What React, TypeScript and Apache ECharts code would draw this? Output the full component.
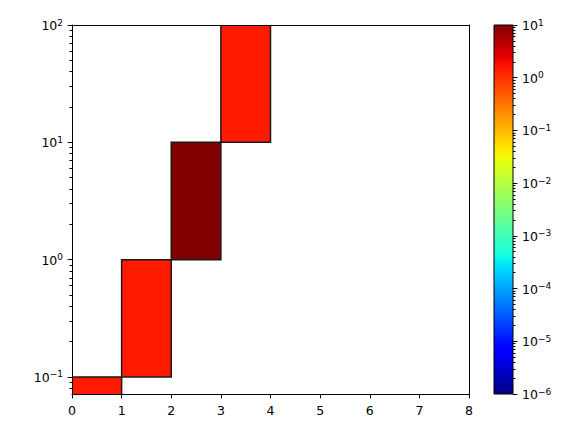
import React, { useEffect, useRef } from "react";
import * as echarts from "echarts";

// ---- data ----
const xEdges = [0, 1, 2, 3, 4];
const yEdges = [0.01, 0.1, 1, 10, 100];
const cellValues = [1.5, 1.5, 10, 1.5];
const xTicks = [0, 1, 2, 3, 4, 5, 6, 7, 8];
const yMajorExps = [-1, 0, 1, 2];
const yMin = 0.0716;
const yMax = 100;
const cbMajorExps = [-6, -5, -4, -3, -2, -1, 0, 1];
const cbMin = 1e-6;
const cbMax = 10;

const FONT = "DejaVu Sans";

// matplotlib "jet" colormap segments
const JR = [[0, 0], [0.35, 0], [0.66, 1], [0.89, 1], [1, 0.5]];
const JG = [[0, 0], [0.125, 0], [0.375, 1], [0.64, 1], [0.91, 0], [1, 0]];
const JB = [[0, 0.5], [0.11, 1], [0.34, 1], [0.65, 0], [1, 0]];
function seg(pts: number[][], t: number) {
  for (let i = 1; i < pts.length; i++) {
    if (t <= pts[i][0]) {
      const [x0, y0] = pts[i - 1];
      const [x1, y1] = pts[i];
      return y0 + ((t - x0) / (x1 - x0)) * (y1 - y0);
    }
  }
  return pts[pts.length - 1][1];
}
function jet(t: number) {
  const c = (v: number) => Math.round(Math.max(0, Math.min(1, v)) * 255);
  return `rgb(${c(seg(JR, t))},${c(seg(JG, t))},${c(seg(JB, t))})`;
}
const N_STOPS = 101;
const jetColors: string[] = [];
for (let i = 0; i < N_STOPS; i++) jetColors.push(jet(i / (N_STOPS - 1)));

function minorLogs(lo: number, hi: number) {
  const out: number[] = [];
  for (let e = Math.floor(Math.log10(lo)); e <= Math.ceil(Math.log10(hi)); e++) {
    for (let k = 2; k <= 9; k++) {
      const v = k * Math.pow(10, e);
      if (v >= lo && v <= hi) out.push(Math.log10(v));
    }
  }
  return out;
}

const powLabel = (v: number) => {
  const e = Math.round(v);
  const s = e < 0 ? "\u2212" + -e : String(e);
  return `{b|10}{s|${s}}`;
};
const rich = {
  b: { fontSize: 12.5, fontFamily: FONT, color: "#000", lineHeight: 14, verticalAlign: "bottom" },
  s: { fontSize: 9, fontFamily: FONT, color: "#000", lineHeight: 9, verticalAlign: "top" },
};

export default function App() {
  const ref = useRef<HTMLDivElement>(null);
  useEffect(() => {
    const chart = echarts.init(ref.current!, null, { renderer: "svg" });
    const cells = cellValues.map((v, i) => [
      xEdges[i],
      xEdges[i + 1],
      Math.log10(yEdges[i]),
      Math.log10(yEdges[i + 1]),
      Math.log10(v),
    ]);
    const lyMin = Math.log10(yMin);
    const lyMax = Math.log10(yMax);
    const lcMin = Math.log10(cbMin);
    const lcMax = Math.log10(cbMax);
    const lineStyle = { color: "#000", width: 1 };
    const option: any = {
      animation: false,
      backgroundColor: "#fff",
      grid: [
        { left: 72, top: 25, width: 397, height: 369 },
        { left: 494, top: 25, width: 19, height: 369 },
      ],
      xAxis: [
        {
          gridIndex: 0, type: "value", min: 0, max: 8, interval: 1, position: "bottom", z: 10,
          axisLine: { show: true, onZero: false, lineStyle }, splitLine: { show: false },
          axisTick: { show: true, length: 4.4, lineStyle, customValues: xTicks },
          axisLabel: { margin: 10, fontSize: 12.5, fontFamily: FONT, color: "#000", customValues: xTicks },
        },
        {
          gridIndex: 0, type: "value", min: 0, max: 8, position: "top", z: 10,
          axisLine: { show: true, onZero: false, lineStyle }, splitLine: { show: false },
          axisTick: { show: false }, axisLabel: { show: false },
        },
        {
          gridIndex: 1, type: "value", min: 0, max: 1, position: "bottom",
          axisLine: { show: false, onZero: false }, splitLine: { show: false },
          axisTick: { show: false }, axisLabel: { show: false },
        },
      ],
      yAxis: [
        {
          gridIndex: 0, type: "value", min: lyMin, max: lyMax, position: "left", z: 10,
          axisLine: { show: true, onZero: false, lineStyle }, splitLine: { show: false },
          axisTick: { show: true, length: 4.4, lineStyle, customValues: yMajorExps },
          axisLabel: { margin: 9, formatter: powLabel, rich, customValues: yMajorExps },
        },
        {
          gridIndex: 0, type: "value", min: lyMin, max: lyMax, position: "left", z: 10,
          axisLine: { show: false, onZero: false }, splitLine: { show: false },
          axisTick: { show: true, length: 2.5, lineStyle, customValues: minorLogs(yMin, yMax) },
          axisLabel: { show: false },
        },
        {
          gridIndex: 0, type: "value", min: lyMin, max: lyMax, position: "right", z: 10,
          axisLine: { show: true, onZero: false, lineStyle }, splitLine: { show: false },
          axisTick: { show: false }, axisLabel: { show: false },
        },
        {
          gridIndex: 1, type: "value", min: lcMin, max: lcMax, interval: 1, position: "right", z: 10,
          axisLine: { show: false, onZero: false }, splitLine: { show: false },
          axisTick: { show: true, length: 4.4, lineStyle, customValues: cbMajorExps },
          axisLabel: { margin: 9, formatter: powLabel, rich, customValues: cbMajorExps },
        },
        {
          gridIndex: 1, type: "value", min: lcMin, max: lcMax, position: "right", z: 10,
          axisLine: { show: false, onZero: false }, splitLine: { show: false },
          axisTick: { show: true, length: 2.5, lineStyle, customValues: minorLogs(cbMin, cbMax) },
          axisLabel: { show: false },
        },
      ],
      visualMap: {
        type: "continuous", show: false, seriesIndex: 0, dimension: 4,
        min: lcMin, max: lcMax, inRange: { color: jetColors },
      },
      series: [
        {
          type: "custom", xAxisIndex: 0, yAxisIndex: 0, clip: true,
          encode: { x: [0, 1], y: [2, 3] },
          data: cells,
          renderItem: (params: any, api: any) => {
            const p0 = api.coord([api.value(0), api.value(3)]);
            const p1 = api.coord([api.value(1), api.value(2)]);
            return {
              type: "rect",
              shape: { x: p0[0], y: p0[1], width: p1[0] - p0[0], height: p1[1] - p0[1] },
              style: { fill: api.visual("color"), stroke: "#1a1a1a", lineWidth: 1.5 },
            };
          },
        },
        {
          type: "custom", xAxisIndex: 2, yAxisIndex: 3,
          encode: { x: [0, 1], y: [2, 3] },
          data: [[0, 1, lcMin, lcMax]],
          renderItem: (params: any, api: any) => {
            const p0 = api.coord([api.value(0), api.value(3)]);
            const p1 = api.coord([api.value(1), api.value(2)]);
            const stops = jetColors.map((c, i) => ({ offset: i / (jetColors.length - 1), color: c }));
            return {
              type: "rect",
              shape: { x: p0[0], y: p0[1], width: p1[0] - p0[0], height: p1[1] - p0[1] },
              style: {
                fill: new echarts.graphic.LinearGradient(0, 1, 0, 0, stops),
                stroke: "#000",
                lineWidth: 1,
              },
            };
          },
        },
      ],
    };
    chart.setOption(option);
    return () => chart.dispose();
  }, []);
  return <div ref={ref} style={{ width: 585, height: 433, position: "absolute", left: 0, top: 0 }} />;
}
